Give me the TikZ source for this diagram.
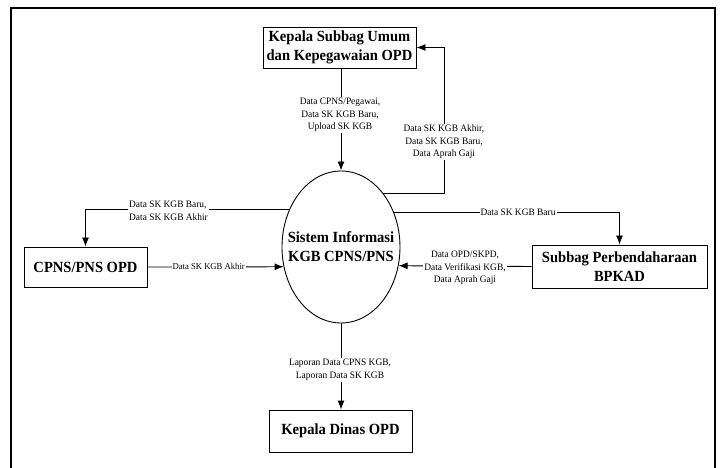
\documentclass[tikz,border=0pt]{standalone}
\usepackage{fontspec}
\setmainfont{Liberation Serif}
\newfontfamily\boxfont[FakeStretch=0.94]{Liberation Serif}
\newfontfamily\lblfont[FakeStretch=0.96]{Liberation Serif}
\usetikzlibrary{arrows.meta,shapes.geometric}
\begin{document}
\begin{tikzpicture}[x=1pt,y=-1pt,
  entity/.style={draw,line width=0.9pt,align=center,inner sep=0pt,
    font=\boxfont\bfseries\fontsize{15.5}{19}\selectfont},
  proc/.style={draw,ellipse,line width=0.9pt,inner sep=0pt},
  proctext/.style={align=center,inner sep=0pt,
    font=\boxfont\bfseries\fontsize{15.5}{19}\selectfont},
  flow/.style={line width=0.9pt,-{Latex[length=9pt,width=7pt]}},
  lbl/.style={fill=white,inner sep=1pt,align=center,
    font=\lblfont\fontsize{9.8}{12.5}\selectfont},
  frame/.style={line width=1.4pt}]
\useasboundingbox (0,0) rectangle (721,468);
\draw[frame] (11,468) -- (11,8) -- (715,8) -- (715,468);

\node[entity,minimum width=153pt,minimum height=41pt] (T) at (339.5,47.5) {Kepala Subbag Umum\\dan Kepegawaian OPD};
\node[proc,minimum width=118pt,minimum height=152pt] (E) at (341,247) {};
\node[proctext] (Et) at (E.center) {Sistem Informasi\\KGB CPNS/PNS};
\node[entity,minimum width=123pt,minimum height=40pt] (C) at (85.5,267) {CPNS/PNS OPD};
\node[entity,minimum width=175pt,minimum height=43pt] (S) at (619.5,266.5) {Subbag Perbendaharaan\\BPKAD};
\node[entity,minimum width=143pt,minimum height=42pt] (K) at (340.5,431) {Kepala Dinas OPD};

\coordinate (r1) at (444,0);

% top box -> system
\draw[flow] (T.south -| E.north) -- (E.north);
\node[lbl] (l1) at (340,115) {Data CPNS/Pegawai,\\Data SK KGB Baru,\\Upload SK KGB};

% system -> top box
\draw[flow] (E.52.5) -- (E.52.5 -| r1) |- (T.east);
\node[lbl] (l2) at (444,142) {Data SK KGB Akhir,\\Data SK KGB Baru,\\Data Aprah Gaji};

% system -> CPNS
\draw[flow] (E.144.3) -| (C.north);
\node[lbl,anchor=west,align=left] (l3) at (128,211) {Data SK KGB Baru,\\Data SK KGB Akhir};

% CPNS -> system
\draw[flow] (C.east) -- node[lbl,pos=0.45,font=\lblfont\fontsize{9}{11}\selectfont] (l4) {Data SK KGB Akhir} (E.199.4);

% system -> Subbag
\draw[flow] (E.33.7) -| (S.north);
\node[lbl] (l5) at (518,212) {Data SK KGB Baru};

% Subbag -> system
\draw[flow] (S.west) -- (E.-18.9);
\node[lbl] (l6) at (465,268) {Data OPD/SKPD,\\Data Verifikasi KGB,\\Data Aprah Gaji};

% system -> Kepala Dinas
\draw[flow] (E.south) -- (E.south |- K.north);
\node[lbl] (l7) at (340,370) {Laporan Data CPNS KGB,\\Laporan Data SK KGB};
\end{tikzpicture}
\end{document}
